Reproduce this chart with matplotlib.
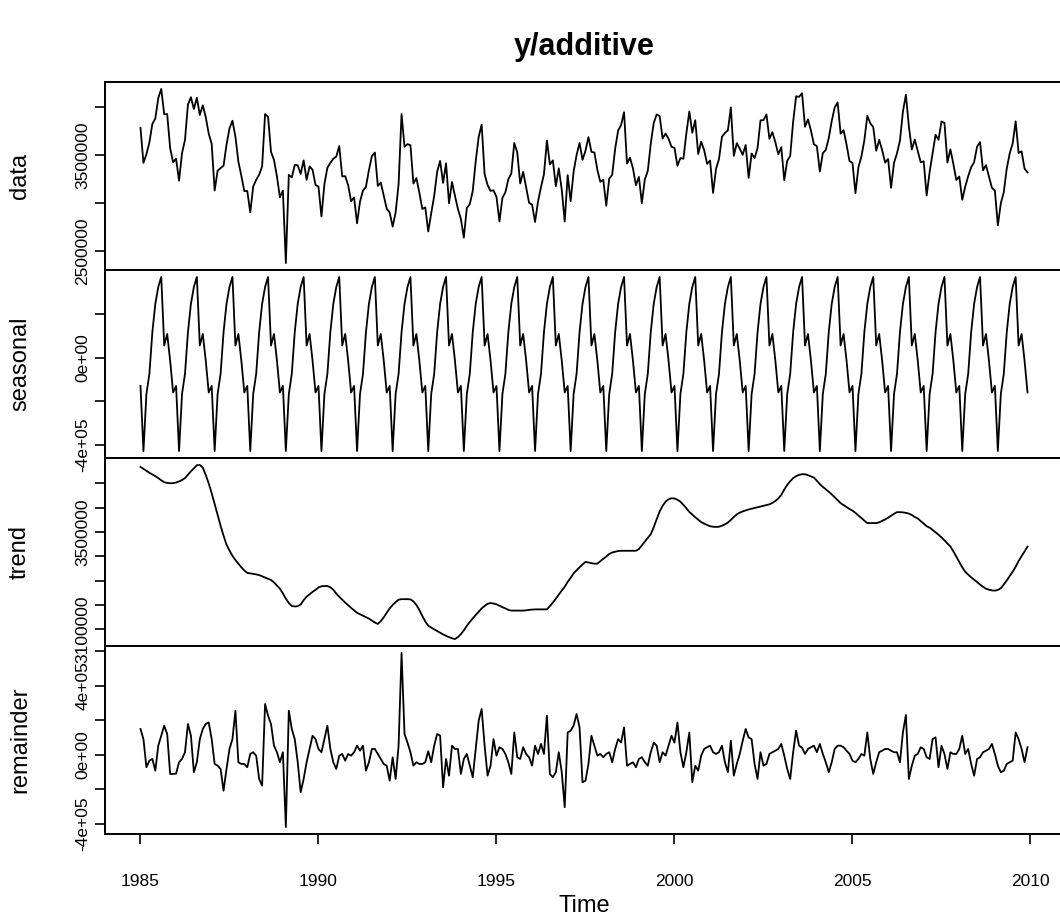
import numpy as np
import matplotlib.pyplot as plt

plt.rcParams['font.family'] = ['Liberation Sans', 'DejaVu Sans']

# monthly series 1985-01 .. 2009-12, values in thousands
start_year = 1985
n_years = 25

seasonal_k = [-130, -428, -167, -75, 116, 246, 323, 369, 55, 108, -14, -160]

trend_k = [
    3768, 3760, 3752, 3744, 3737, 3730, 3722, 3713, 3705, 3702, 3701, 3701,
    3704, 3708, 3714, 3722, 3736, 3750, 3762, 3775, 3776, 3765, 3735, 3700,
    3660, 3616, 3571, 3526, 3485, 3448, 3424, 3402, 3385, 3370, 3355, 3342,
    3332, 3330, 3328, 3326, 3323, 3318, 3313, 3308, 3303, 3293, 3280, 3267,
    3248, 3226, 3208, 3196, 3194, 3195, 3202, 3220, 3234, 3244, 3254, 3262,
    3272, 3277, 3278, 3278, 3273, 3263, 3247, 3234, 3222, 3210, 3199, 3188,
    3178, 3168, 3162, 3156, 3150, 3144, 3136, 3128, 3122, 3134, 3149, 3168,
    3186, 3200, 3212, 3222, 3224, 3224, 3224, 3223, 3215, 3200, 3180, 3155,
    3132, 3115, 3107, 3100, 3093, 3086, 3079, 3073, 3068, 3063, 3060, 3068,
    3080, 3096, 3114, 3130, 3145, 3159, 3172, 3186, 3196, 3205, 3208, 3206,
    3203, 3197, 3191, 3186, 3180, 3177, 3177, 3177, 3177, 3177, 3178, 3180,
    3181, 3182, 3182, 3182, 3182, 3182, 3195, 3210, 3226, 3243, 3259, 3275,
    3295, 3312, 3330, 3343, 3355, 3367, 3377, 3375, 3372, 3370, 3370, 3380,
    3390, 3399, 3410, 3416, 3419, 3422, 3423, 3423, 3423, 3423, 3423, 3423,
    3430, 3445, 3461, 3476, 3491, 3520, 3552, 3585, 3608, 3625, 3635, 3639,
    3638, 3633, 3625, 3612, 3598, 3583, 3572, 3561, 3551, 3541, 3535, 3529,
    3524, 3522, 3521, 3522, 3526, 3532, 3539, 3550, 3562, 3573, 3580, 3585,
    3589, 3593, 3596, 3599, 3602, 3605, 3608, 3611, 3614, 3620, 3628, 3638,
    3653, 3675, 3694, 3709, 3722, 3730, 3735, 3738, 3738, 3734, 3729, 3724,
    3711, 3697, 3686, 3676, 3666, 3655, 3643, 3631, 3619, 3611, 3603, 3595,
    3588, 3579, 3568, 3558, 3547, 3537, 3537, 3537, 3537, 3540, 3546, 3552,
    3559, 3567, 3575, 3582, 3582, 3581, 3579, 3576, 3570, 3562, 3556, 3545,
    3535, 3524, 3518, 3509, 3499, 3489, 3478, 3466, 3453, 3441, 3421, 3399,
    3377, 3355, 3337, 3325, 3314, 3304, 3294, 3284, 3275, 3267, 3263, 3260,
    3259, 3262, 3269, 3284, 3301, 3319, 3337, 3357, 3381, 3401, 3420, 3440,
]

remainder_k = [
    149, 90, -73, -35, -25, -93, 52, 110, 168, 120, -112, -112,
    -110, -44, -25, 14, 178, 110, -102, -44, 90, 149, 178, 187,
    90, -54, -64, -83, -209, -83, 33, 90, 255, -44, -54, -54,
    -73, 4, 14, -6, -141, -180, 294, 226, 178, 52, 14, -44,
    14, -420, 255, 149, 90, -44, -218, -141, -44, 33, 110, 90,
    33, 14, 90, 168, 33, -44, -83, -6, 4, -35, 4, -6,
    14, 52, 23, 52, -93, -44, 33, 33, 4, -25, -54, -64,
    -151, -15, -141, 52, 590, 120, 70, 14, -64, -44, -54, -54,
    -44, 20, -44, 52, 120, 110, -189, -25, -122, 52, 33, 33,
    -112, -25, 4, -64, -131, 33, 197, 265, 52, -122, -64, 90,
    -6, 43, 33, 4, -44, -112, 129, -15, -25, 43, 4, -15,
    -64, 52, 4, 62, 4, 226, -112, -131, -102, 14, -102, -305,
    129, 139, 168, 236, 158, -160, -151, -54, 110, 52, -6, 4,
    -15, 4, 14, -44, 33, 90, 70, 158, -64, -54, -44, -73,
    -25, -15, -44, -64, 14, 70, 52, -44, 14, -6, 52, 110,
    70, 187, 14, -73, 14, 129, -160, -64, -93, -6, 33, 43,
    52, 14, 4, 14, 52, -44, -102, 81, -122, -54, 4, 81,
    149, 100, 90, -54, -141, 14, -64, -54, 4, 14, 23, 33,
    62, -6, -83, -141, 14, 140, 52, 40, 4, 33, 43, 52,
    14, 62, 4, -44, -102, -44, 33, 52, 52, 43, 23, 4,
    -35, -44, -25, 4, -6, 129, -25, -112, -44, 14, 23, 33,
    33, 23, 14, 14, -44, 129, 230, -141, -64, -6, 4, 43,
    33, -15, -25, 90, 100, -73, 52, 4, -83, 14, 4, 4,
    33, 110, 4, 33, -54, -122, -25, -15, 14, 23, 33, 62,
    4, -64, -102, -93, -54, -44, -35, 129, 90, 33, -44, 43,
]

data_ticks = [2500000, 3000000, 3500000, 4000000]
data_labels = ['2500000', '', '3500000', '']
seasonal_ticks = [-400000, -200000, 0, 200000]
seasonal_labels = ['-4e+05', '', '0e+00', '']
trend_ticks = [3100000, 3200000, 3300000, 3400000, 3500000, 3600000, 3700000]
trend_labels = ['3100000', '', '', '', '3500000', '', '']
remainder_ticks = [-400000, -200000, 0, 200000, 400000, 600000]
remainder_labels = ['-4e+05', '', '0e+00', '', '4e+05', '']
year_ticks = [1985, 1990, 1995, 2000, 2005, 2010]

time = start_year + np.arange(n_years * 12) / 12
seasonal = np.tile(seasonal_k, n_years) * 1000.0
trend = np.array(trend_k) * 1000.0
remainder = np.array(remainder_k) * 1000.0
data = trend + seasonal + remainder

panels = [
    ('data', data, data_ticks, data_labels),
    ('seasonal', seasonal, seasonal_ticks, seasonal_labels),
    ('trend', trend, trend_ticks, trend_labels),
    ('remainder', remainder, remainder_ticks, remainder_labels),
]

W, H = 1060, 922
fig = plt.figure(figsize=(W / 100, H / 100), dpi=100)

x0, pw = 105, 958
y0, ph = 82, 188
for i, (name, vals, ticks, labels) in enumerate(panels):
    top = y0 + i * ph
    ax = fig.add_axes([x0 / W, 1 - (top + ph) / H, pw / W, ph / H])
    ax.plot(time, vals, color='black', lw=1.3)
    ax.margins(x=0.04, y=0.04)
    ax.set_yticks(ticks)
    ax.set_yticklabels(labels, rotation=90, va='center', fontsize=12.5)
    ax.set_xticks(year_ticks)
    ax.tick_params(axis='both', direction='out', length=7.5, width=1.2, pad=3)
    if i < 3:
        ax.tick_params(axis='x', bottom=False, labelbottom=False)
    else:
        ax.set_xticklabels([str(y) for y in year_ticks], fontsize=12.5)
        ax.tick_params(axis='x', pad=21.5)
    for s in ax.spines.values():
        s.set_linewidth(1.4)
    fig.text(20 / W, 1 - (top + ph / 2) / H, name, rotation=90,
             ha='center', va='center', fontsize=17)

cx = (x0 + pw / 2) / W
fig.text(cx, 1 - 47 / H, 'y/additive', ha='center', va='center',
         fontsize=22, fontweight='bold')
fig.text(cx, 1 - 906 / H, 'Time', ha='center', va='center', fontsize=17)

fig.savefig('out.png', dpi=100)
